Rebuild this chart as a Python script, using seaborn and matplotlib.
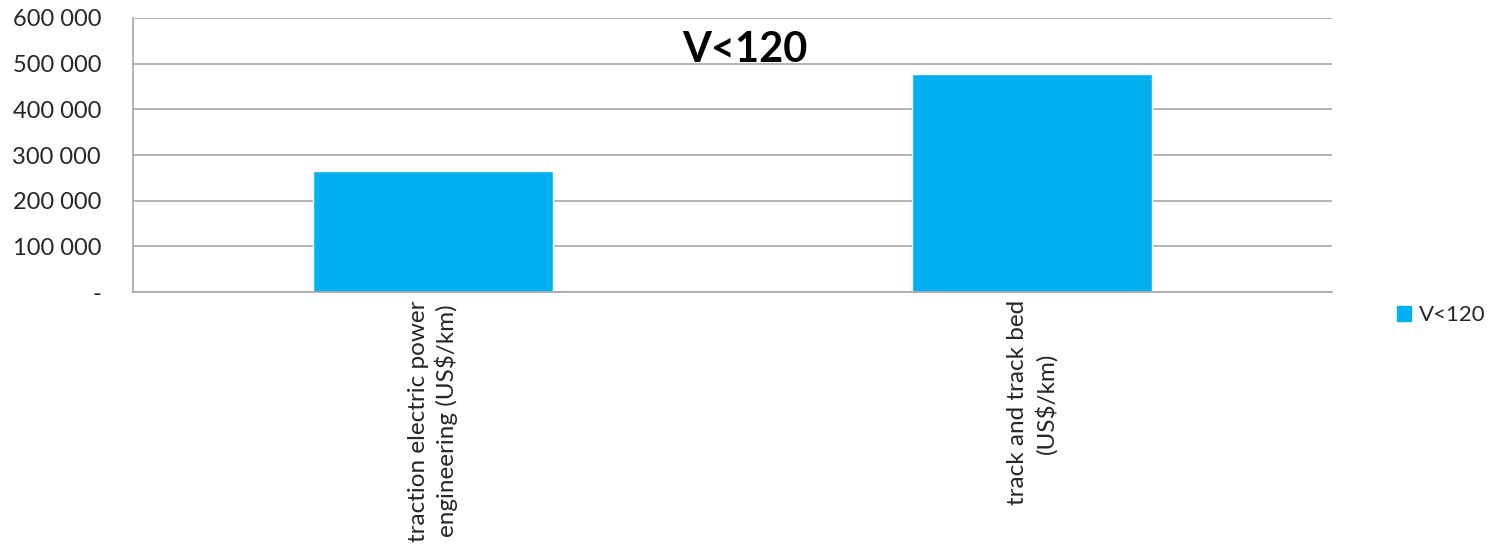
import pandas as pd
import matplotlib.pyplot as plt
import matplotlib.ticker as mticker
import seaborn as sns

# Data
categories = ['traction electric power\nengineering (US$/km)', 'track and track bed\n(US$/km)']
values = [265000, 477000]
series = ['V<120', 'V<120']
yticks = [0, 100000, 200000, 300000, 400000, 500000, 600000]

df = pd.DataFrame({'category': categories, 'value': values, 'series': series})

sns.set_style('white')
plt.rcParams['font.family'] = ['Lato', 'DejaVu Sans']

fig = plt.figure(figsize=(14.94, 5.58), dpi=100)
ax = fig.add_axes([133 / 1494, 1 - 292 / 558, (1332 - 133) / 1494, (292 - 18) / 558])

sns.barplot(data=df, x='category', y='value', hue='series', palette=['#00B0F0'],
            width=0.4, ax=ax, legend=True, saturation=1)

grid_col = '#A6A6A6'
ax.set_ylim(0, 600000)
ax.set_xlim(-0.5, 1.5)
ax.set_yticks(yticks)
ax.yaxis.set_major_formatter(mticker.FuncFormatter(
    lambda v, p: '-' if v == 0 else f'{int(v):,}'.replace(',', ' ')))
ax.yaxis.grid(True, color=grid_col, linewidth=1.2)
ax.set_axisbelow(True)
for s in ['top', 'right']:
    ax.spines[s].set_visible(False)
for s in ['left', 'bottom']:
    ax.spines[s].set_color(grid_col)
    ax.spines[s].set_linewidth(1.2)

# x ticks sit between categories, labels centred under bars
ax.set_xticks([-0.5, 0.5, 1.5], minor=False)
ax.set_xticklabels([])
ax.set_xticks([0, 1], minor=True)
ax.set_xticklabels(categories, minor=True, rotation=90, fontsize=17.5,
                   ha='center', va='top', multialignment='center', color='#262626',
                   linespacing=1.3)
ax.tick_params(axis='x', which='minor', length=0, pad=6)
ax.tick_params(axis='x', which='major', length=7, color=grid_col, width=1.2)
ax.tick_params(axis='y', length=7, color=grid_col, width=1.2, labelsize=17,
               labelcolor='#262626', pad=16)
ax.set_xlabel('')
ax.set_ylabel('')

ax.text(0.51, 0.885, 'V<120', transform=ax.transAxes, ha='center', va='center',
        fontsize=30, fontweight='bold', color='black')

ax.get_legend().remove()
handles = [plt.Rectangle((0, 0), 1, 1, color='#00B0F0')]
fig.legend(handles, ['V<120'], loc='center left', bbox_to_anchor=(1397 / 1494, 1 - 315 / 558),
           frameon=False, fontsize=16, handlelength=0.65, handleheight=0.65, handletextpad=0.35,
           borderpad=0, borderaxespad=0)

fig.savefig('out.png', dpi=100)
